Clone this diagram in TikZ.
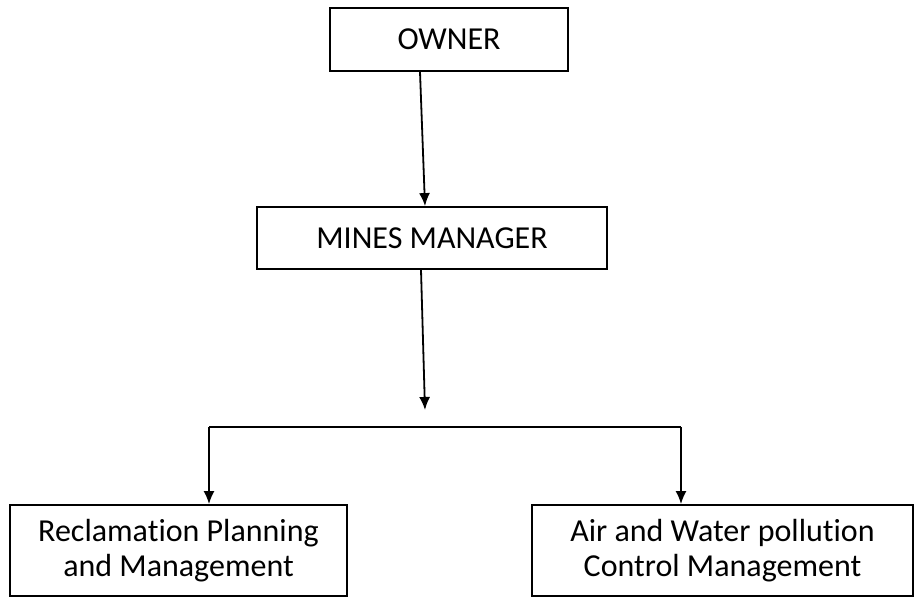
\documentclass[tikz,border=0pt]{standalone}
\usepackage{fontspec}
\setmainfont{Carlito}[Ligatures=NoCommon]
\usepackage{xcolor}
\usetikzlibrary{arrows.meta}

\begin{document}
\begin{tikzpicture}[x=0.5pt,y=0.5pt,line width=0.9pt,
		box/.style={draw, inner sep=0pt, align=center, font=\fontsize{16}{17.5}\selectfont},
		arr/.style={-{Latex[length=6.5pt,width=5.5pt]}}]

			\useasboundingbox (0,0) rectangle (916,-599);

			\node [box, minimum width=238*0.5pt, minimum height=63*0.5pt] (owner) at (449,-39.5) {OWNER};
			\node [box, minimum width=350*0.5pt, minimum height=62*0.5pt] (mgr) at (432,-238) {MINES MANAGER};
			\node [box, minimum width=337*0.5pt, minimum height=91*0.5pt] (recl) at (178.5,-550.5) {Reclamation Planning\\and Management};
			\node [box, minimum width=381*0.5pt, minimum height=91*0.5pt] (air) at (722.5,-550.5) {Air and Water pollution\\Control Management};

			\coordinate (split) at (425,-410);
			\coordinate (barL) at (209,-427);
			\coordinate (barR) at (681,-427);

			\draw [arr] (owner.south -| 420,0) -- (mgr.north -| 425,0);
			\draw [arr] (mgr.south -| 421,0) -- (split);

			\draw (barL) -- (barR);
			\draw [arr] (barL) -- (barL |- recl.north);
			\draw [arr] (barR) -- (barR |- air.north);
		\end{tikzpicture}
\end{document}
